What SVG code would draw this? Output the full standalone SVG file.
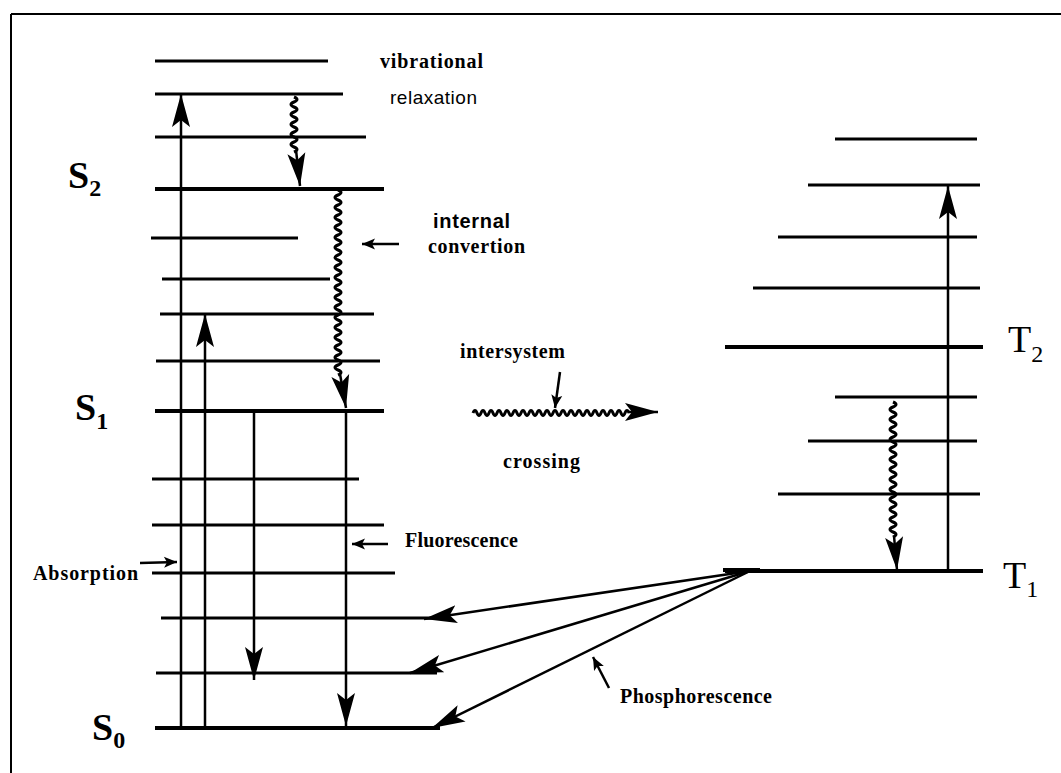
<svg xmlns="http://www.w3.org/2000/svg" width="1061" height="773" viewBox="0 0 1061 773">
<style>
.lv{stroke:#000;stroke-width:3;fill:none}
.lk{stroke:#000;stroke-width:4;fill:none}
.ar{stroke:#000;stroke-width:2.5;fill:none}
.wv{stroke:#000;stroke-width:3;fill:none}
.pt{stroke:#000;stroke-width:2.5;fill:none}
.tb{font-family:"Liberation Serif",serif;font-weight:bold;font-size:20px;fill:#000}
.ts{font-family:"Liberation Sans",sans-serif;font-size:19px;fill:#000}
.tsb{font-family:"Liberation Sans",sans-serif;font-weight:bold;font-size:20px;fill:#000}
.big{font-family:"Liberation Serif",serif;font-weight:bold;font-size:38px;fill:#000}
.bigr{font-family:"Liberation Serif",serif;font-size:38px;fill:#000}
.sub{font-size:24px}
</style>
<defs>
<marker id="ah" viewBox="-33 -10 34 20" refX="0" refY="0" markerWidth="34" markerHeight="20" orient="auto" markerUnits="userSpaceOnUse"><path d="M0,0 L-33,-9 L-26,0 L-33,9 Z" fill="#000"/></marker>
<marker id="sh" viewBox="-14 -6 15 12" refX="0" refY="0" markerWidth="15" markerHeight="12" orient="auto" markerUnits="userSpaceOnUse"><path d="M0,0 L-13,-5.5 L-10,0 L-13,5.5 Z" fill="#000"/></marker>
</defs>
<rect width="1061" height="773" fill="#fff"/>
<g id="frame">
<line x1="11" y1="14" x2="1061" y2="14" stroke="#000" stroke-width="2"/>
<line x1="11" y1="14" x2="11" y2="773" stroke="#000" stroke-width="2"/>
</g>
<g id="singlet-levels">
<line class="lv" x1="155" y1="61" x2="328" y2="61"/>
<line class="lv" x1="155" y1="94" x2="343" y2="94"/>
<line class="lv" x1="155" y1="137" x2="366" y2="137"/>
<line class="lk" x1="155" y1="189" x2="384" y2="189"/>
<line class="lv" x1="151" y1="238" x2="298" y2="238"/>
<line class="lv" x1="162" y1="279" x2="330" y2="279"/>
<line class="lv" x1="160" y1="314" x2="374" y2="314"/>
<line class="lv" x1="156" y1="361" x2="380" y2="361"/>
<line class="lk" x1="155" y1="411" x2="384" y2="411"/>
<line class="lv" x1="152" y1="479" x2="359" y2="479"/>
<line class="lv" x1="152" y1="525" x2="384" y2="525"/>
<line class="lv" x1="152" y1="573" x2="395" y2="573"/>
<line class="lv" x1="161" y1="618" x2="437" y2="618"/>
<line class="lv" x1="156" y1="673" x2="437" y2="673"/>
<line class="lk" x1="155" y1="728" x2="440" y2="728"/>
</g>
<g id="triplet-levels">
<line class="lv" x1="835" y1="139" x2="977" y2="139"/>
<line class="lv" x1="808" y1="185" x2="980" y2="185"/>
<line class="lv" x1="778" y1="237" x2="977" y2="237"/>
<line class="lv" x1="753" y1="288" x2="980" y2="288"/>
<line class="lk" x1="725" y1="347" x2="983" y2="347"/>
<line class="lv" x1="835" y1="397" x2="977" y2="397"/>
<line class="lv" x1="808" y1="441" x2="977" y2="441"/>
<line class="lv" x1="778" y1="494" x2="980" y2="494"/>
<line class="lk" x1="725" y1="571" x2="983" y2="571"/>
<line class="lk" x1="723" y1="570" x2="760" y2="570"/>
</g>
<g id="connectors">
<line class="ar" x1="181" y1="728" x2="181" y2="94" marker-end="url(#ah)"/>
<line class="ar" x1="205" y1="728" x2="205" y2="314" marker-end="url(#ah)"/>
<line class="ar" x1="254" y1="411" x2="254" y2="680" marker-end="url(#ah)"/>
<line class="ar" x1="346" y1="411" x2="346" y2="726" marker-end="url(#ah)"/>
<line class="ar" x1="948" y1="571" x2="948" y2="186" marker-end="url(#ah)"/>
<path class="wv" d="M294,97 q6,2.5 0,5 t0,5 t0,5 t0,5 t0,5 t0,5 t0,5 t0,5 t0,5 t0,5 t0,5"/>
<line class="ar" x1="296" y1="150" x2="300" y2="186" marker-end="url(#ah)"/>
<path class="wv" d="M338,190 q6,2.5 0,5 t0,5 t0,5 t0,5 t0,5 t0,5 t0,5 t0,5 t0,5 t0,5 t0,5 t0,5 t0,5 t0,5 t0,5 t0,5 t0,5 t0,5 t0,5 t0,5 t0,5 t0,5 t0,5 t0,5 t0,5 t0,5 t0,5 t0,5 t0,5 t0,5 t0,5 t0,5 t0,5 t0,5 t0,5 t0,5 t0,5"/>
<line class="ar" x1="340" y1="374" x2="346" y2="408" marker-end="url(#ah)"/>
<path class="wv" d="M893,402 q6,2.5 0,5 t0,5 t0,5 t0,5 t0,5 t0,5 t0,5 t0,5 t0,5 t0,5 t0,5 t0,5 t0,5 t0,5 t0,5 t0,5 t0,5 t0,5 t0,5 t0,5 t0,5 t0,5 t0,5 t0,5 t0,5 t0,5 t0,5"/>
<line class="ar" x1="894" y1="536" x2="897" y2="570" marker-end="url(#ah)"/>
<path class="wv" stroke-width="4" d="M473,413 q2,-5 4,0 t4,0 t4,0 t4,0 t4,0 t4,0 t4,0 t4,0 t4,0 t4,0 t4,0 t4,0 t4,0 t4,0 t4,0 t4,0 t4,0 t4,0 t4,0 t4,0 t4,0 t4,0 t4,0 t4,0 t4,0 t4,0 t4,0 t4,0 t4,0 t4,0 t4,0 t4,0 t4,0 t4,0 t4,0 t4,0 t4,0 t4,0 t4,0"/>
<line class="ar" stroke-width="3" x1="628" y1="412" x2="658" y2="412" marker-end="url(#ah)"/>
<line class="ar" x1="750" y1="571" x2="424" y2="619" marker-end="url(#ah)"/>
<line class="ar" x1="750" y1="571" x2="410" y2="673" marker-end="url(#ah)"/>
<line class="ar" x1="750" y1="571" x2="432" y2="728" marker-end="url(#ah)"/>
<line class="pt" x1="399" y1="244" x2="362" y2="244" marker-end="url(#sh)"/>
<line class="pt" x1="560" y1="372" x2="555" y2="408" marker-end="url(#sh)"/>
<line class="pt" x1="388" y1="544" x2="352" y2="544" marker-end="url(#sh)"/>
<line class="pt" x1="140" y1="563" x2="177" y2="562" marker-end="url(#sh)"/>
<line class="pt" x1="609" y1="688" x2="593" y2="657" marker-end="url(#sh)"/>
</g>
<g id="labels">
<text class="big" x="68" y="188">S<tspan class="sub" dy="8">2</tspan></text>
<text class="big" x="75" y="420">S<tspan class="sub" dy="9">1</tspan></text>
<text class="big" x="92" y="740">S<tspan class="sub" dy="8">0</tspan></text>
<text class="bigr" x="1008" y="352">T<tspan class="sub" dy="10">2</tspan></text>
<text class="bigr" x="1003" y="588">T<tspan class="sub" dy="9">1</tspan></text>
<text class="tb" x="380" y="68" textLength="103">vibrational</text>
<text class="ts" x="390" y="104" textLength="87">relaxation</text>
<text class="tsb" x="433" y="228" textLength="77">internal</text>
<text class="tb" x="428" y="253" textLength="97" font-size="19">convertion</text>
<text class="tb" x="460" y="358" textLength="105">intersystem</text>
<text class="tb" x="503" y="468" textLength="77">crossing</text>
<text class="tb" x="405" y="547" textLength="113">Fluorescence</text>
<text class="tb" x="33" y="580" textLength="105">Absorption</text>
<text class="tb" x="620" y="703" textLength="152">Phosphorescence</text>
</g>
</svg>
